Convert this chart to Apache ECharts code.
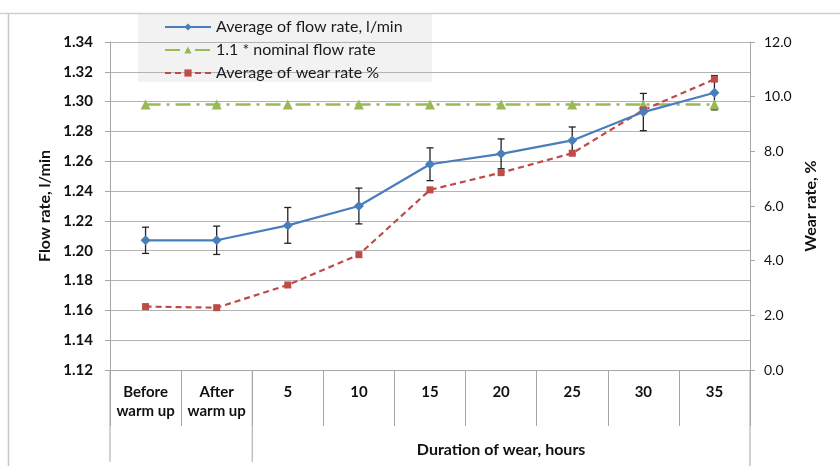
<!DOCTYPE html>
<html><head><meta charset="utf-8">
<script src="https://cdn.jsdelivr.net/npm/echarts@6/dist/echarts.min.js"></script>
<style>html,body{margin:0;padding:0;background:#fff}#c{width:840px;height:466px}</style>
</head><body><div id="c"></div>
<script>
const categories = ['Before\nwarm up', 'After\nwarm up', '5', '10', '15', '20', '25', '30', '35'];
const flowRate = [1.207, 1.207, 1.217, 1.230, 1.258, 1.265, 1.274, 1.293, 1.306];
const flowErr = [0.0088, 0.0095, 0.012, 0.012, 0.011, 0.010, 0.009, 0.0125, 0.0115];
const nominalFlow = [1.298, 1.298, 1.298, 1.298, 1.298, 1.298, 1.298, 1.298, 1.298];
const wearRate = [2.32, 2.28, 3.11, 4.22, 6.59, 7.22, 7.93, 9.51, 10.64];
const groupLabel = 'Duration of wear, hours';

const FONT = 'Lato';
const chart = echarts.init(document.getElementById('c'), null, {renderer: 'canvas'});
const errData = flowRate.map((v, i) => [i, v - flowErr[i], v + flowErr[i]]);

const option = {
  animation: false,
  textStyle: {fontFamily: FONT},
  grid: {left: 110, right: 90, top: 42, bottom: 96, containLabel: false},
  legend: {
    orient: 'vertical', left: 164, top: 19, itemWidth: 46, itemHeight: 9, itemGap: 7,
    padding: 0,
    textStyle: {fontFamily: FONT, fontSize: 16, color: '#1a1a1a', padding: [0, 0, 0, 0]},
    data: ['Average of flow rate, l/min', '1.1 * nominal flow rate', 'Average of wear rate %']
  },
  xAxis: {
    type: 'category', data: categories, boundaryGap: true,
    axisLine: {lineStyle: {color: '#a6a6a6', width: 1}},
    axisTick: {show: true, length: 56, interval: 0, lineStyle: {color: '#a6a6a6'}},
    axisLabel: {interval: 0, fontFamily: FONT, fontSize: 15, fontWeight: 'bold', color: '#111', lineHeight: 19, margin: 13},
    splitLine: {show: false}
  },
  yAxis: [{
    type: 'value', min: 1.12, max: 1.34, interval: 0.02,
    name: 'Flow rate, l/min', nameLocation: 'middle', nameRotate: 90, nameGap: 57,
    nameTextStyle: {fontFamily: FONT, fontSize: 16, fontWeight: 'bold', color: '#111'},
    axisLine: {show: true, lineStyle: {color: '#a6a6a6'}},
    axisTick: {show: true, length: 5, lineStyle: {color: '#a6a6a6'}},
    axisLabel: {fontFamily: FONT, fontSize: 15, fontWeight: 'bold', color: '#111', margin: 17,
      formatter: v => v.toFixed(2)},
    splitLine: {show: true, lineStyle: {color: '#b3b3b3', width: 1}}
  }, {
    type: 'value', min: 0, max: 12, interval: 2, position: 'right',
    name: 'Wear rate, %', nameLocation: 'middle', nameRotate: 90, nameGap: 53,
    nameTextStyle: {fontFamily: FONT, fontSize: 16, fontWeight: 'bold', color: '#111'},
    axisLine: {show: true, lineStyle: {color: '#a6a6a6'}},
    axisTick: {show: true, length: 5, lineStyle: {color: '#a6a6a6'}},
    axisLabel: {fontFamily: FONT, fontSize: 14, color: '#111', margin: 14,
      formatter: v => v.toFixed(1)},
    splitLine: {show: false}
  }],
  series: [{
    type: 'custom', name: 'err', yAxisIndex: 0, z: 3, silent: true,
    data: errData,
    renderItem: (params, api) => {
      const lo = api.coord([api.value(0), api.value(1)]);
      const hi = api.coord([api.value(0), api.value(2)]);
      const c = 3.5;
      const st = {stroke: '#222', lineWidth: 1.3};
      return {type: 'group', children: [
        {type: 'line', shape: {x1: lo[0], y1: lo[1], x2: hi[0], y2: hi[1]}, style: st},
        {type: 'line', shape: {x1: lo[0] - c, y1: lo[1], x2: lo[0] + c, y2: lo[1]}, style: st},
        {type: 'line', shape: {x1: hi[0] - c, y1: hi[1], x2: hi[0] + c, y2: hi[1]}, style: st}
      ]};
    }
  }, {
    type: 'line', name: 'Average of flow rate, l/min', yAxisIndex: 0, data: flowRate, z: 5,
    symbol: 'diamond', symbolSize: 10,
    lineStyle: {color: '#4a7ebb', width: 2.2}, itemStyle: {color: '#4a7ebb'}
  }, {
    type: 'line', name: '1.1 * nominal flow rate', yAxisIndex: 0, data: nominalFlow, z: 4,
    symbol: 'triangle', symbolSize: 10,
    lineStyle: {color: '#98b954', width: 2.5, type: [15, 6, 3, 6]}, itemStyle: {color: '#98b954'}
  }, {
    type: 'line', name: 'Average of wear rate %', yAxisIndex: 1, data: wearRate, z: 4,
    symbol: 'rect', symbolSize: 7,
    lineStyle: {color: '#be4b48', width: 2.2, type: [6, 4]}, itemStyle: {color: '#be4b48'}
  }]
};
chart.setOption(option);

// decorations computed from axis scale
const c0 = chart.convertToPixel({xAxisIndex: 0}, 0);
const c1 = chart.convertToPixel({xAxisIndex: 0}, 1);
const step = c1 - c0;
const n = categories.length;
const xLeft = c0 - step / 2;
const xRight = chart.convertToPixel({xAxisIndex: 0}, n - 1) + step / 2;
const xGroup = c1 + step / 2;
const yBase = chart.convertToPixel({yAxisIndex: 0}, 1.12);
const gray = {stroke: '#a6a6a6', lineWidth: 1};
chart.setOption({
  graphic: [
    {type: 'rect', z: -1, shape: {x: 138, y: 14, width: 294, height: 68}, style: {fill: '#f2f2f2'}},
    {type: 'line', shape: {x1: 0, y1: 13.5, x2: 840, y2: 13.5}, style: {stroke: '#d0d0d0', lineWidth: 1.5}},
    {type: 'line', shape: {x1: 8.5, y1: 13.5, x2: 8.5, y2: 466}, style: {stroke: '#c8c8c8', lineWidth: 1.5}},
    {type: 'line', shape: {x1: xLeft, y1: yBase, x2: xLeft, y2: 462}, style: gray},
    {type: 'line', shape: {x1: xGroup, y1: yBase, x2: xGroup, y2: 462}, style: gray},
    {type: 'line', shape: {x1: xRight, y1: yBase, x2: xRight, y2: 466}, style: gray},
    {type: 'text', x: (xGroup + xRight) / 2, y: 450, style: {text: groupLabel, fontFamily: FONT, fontSize: 16, fontWeight: 'bold', fill: '#111', align: 'center', verticalAlign: 'middle'}}
  ]
});
</script></body></html>
